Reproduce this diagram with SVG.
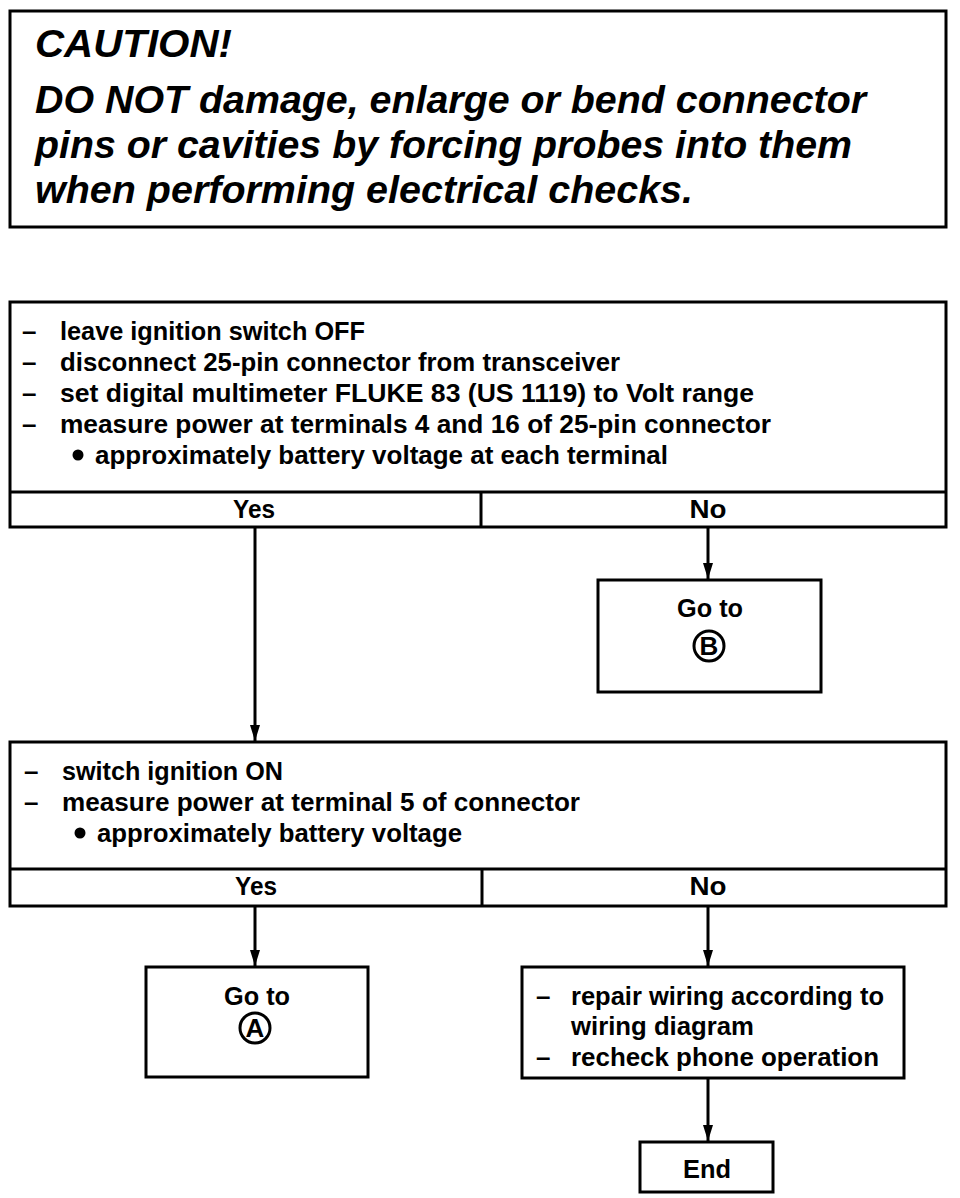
<svg xmlns="http://www.w3.org/2000/svg" width="960" height="1198" viewBox="0 0 960 1198">
<style>
.box{fill:#fff;stroke:#000;stroke-width:3}
.ln{stroke:#000;stroke-width:3;fill:none}
.t{font-family:"Liberation Sans",Arial,sans-serif;font-size:26px;font-weight:bold;fill:#000}
.c{font-family:"Liberation Sans",Arial,sans-serif;font-size:38px;font-weight:bold;font-style:italic;fill:#000}
.m{text-anchor:middle}
.circ{fill:none;stroke:#000;stroke-width:3}
</style>
<defs>
<marker id="ah" markerWidth="16" markerHeight="10" refX="16" refY="5" orient="auto" markerUnits="userSpaceOnUse" viewBox="0 0 16 10">
<path d="M0,0 L16,5 L0,10 Z" fill="#000"/>
</marker>
</defs>
<rect width="960" height="1198" fill="#fff"/>
<g id="caution">
<rect class="box" x="10" y="11" width="936" height="216"/>
<text class="c" x="35" y="57" font-size="31" textLength="197" lengthAdjust="spacingAndGlyphs">CAUTION!</text>
<text class="c" x="35" y="113" textLength="831" lengthAdjust="spacingAndGlyphs">DO NOT damage, enlarge or bend connector</text>
<text class="c" x="35" y="158" textLength="817" lengthAdjust="spacingAndGlyphs">pins or cavities by forcing probes into them</text>
<text class="c" x="35" y="203" textLength="658" lengthAdjust="spacingAndGlyphs">when performing electrical checks.</text>
</g>
<g id="step1">
<rect class="box" x="10" y="302" width="936" height="225"/>
<line class="ln" x1="10" y1="492" x2="946" y2="492"/>
<line class="ln" x1="481" y1="492" x2="481" y2="527"/>
<text class="t" x="22" y="340">–</text>
<text class="t" x="60" y="340" textLength="305" lengthAdjust="spacingAndGlyphs">leave ignition switch OFF</text>
<text class="t" x="22" y="371">–</text>
<text class="t" x="60" y="371" textLength="560" lengthAdjust="spacingAndGlyphs">disconnect 25-pin connector from transceiver</text>
<text class="t" x="22" y="402">–</text>
<text class="t" x="60" y="402" textLength="694" lengthAdjust="spacingAndGlyphs">set digital multimeter FLUKE 83 (US 1119) to Volt range</text>
<text class="t" x="22" y="433">–</text>
<text class="t" x="60" y="433" textLength="711" lengthAdjust="spacingAndGlyphs">measure power at terminals 4 and 16 of 25-pin connector</text>
<circle cx="78" cy="455" r="5.5" fill="#000"/>
<text class="t" x="95" y="464" textLength="573" lengthAdjust="spacingAndGlyphs">approximately battery voltage at each terminal</text>
<text class="t m" x="254" y="518" textLength="42" lengthAdjust="spacingAndGlyphs">Yes</text>
<text class="t m" x="708" y="518" textLength="37" lengthAdjust="spacingAndGlyphs">No</text>
</g>
<g id="gotoB">
<rect class="box" x="598" y="580" width="223" height="112"/>
<text class="t m" x="710" y="617" textLength="66" lengthAdjust="spacingAndGlyphs">Go to</text>
<circle class="circ" cx="709" cy="646" r="15"/>
<text class="t m" x="709" y="655" font-size="24">B</text>
</g>
<g id="step2">
<rect class="box" x="10" y="742" width="936" height="164"/>
<line class="ln" x1="10" y1="869" x2="946" y2="869"/>
<line class="ln" x1="482" y1="869" x2="482" y2="906"/>
<text class="t" x="24" y="780">–</text>
<text class="t" x="62" y="780" textLength="221" lengthAdjust="spacingAndGlyphs">switch ignition ON</text>
<text class="t" x="24" y="811">–</text>
<text class="t" x="62" y="811" textLength="518" lengthAdjust="spacingAndGlyphs">measure power at terminal 5 of connector</text>
<circle cx="80" cy="833" r="5.5" fill="#000"/>
<text class="t" x="97" y="842" textLength="365" lengthAdjust="spacingAndGlyphs">approximately battery voltage</text>
<text class="t m" x="256" y="895" textLength="42" lengthAdjust="spacingAndGlyphs">Yes</text>
<text class="t m" x="708" y="895" textLength="37" lengthAdjust="spacingAndGlyphs">No</text>
</g>
<g id="gotoA">
<rect class="box" x="146" y="967" width="222" height="110"/>
<text class="t m" x="257" y="1005" textLength="66" lengthAdjust="spacingAndGlyphs">Go to</text>
<circle class="circ" cx="255" cy="1028" r="15"/>
<text class="t m" x="255" y="1037" font-size="24">A</text>
</g>
<g id="repair">
<rect class="box" x="522" y="967" width="382" height="111"/>
<text class="t" x="536" y="1005">–</text>
<text class="t" x="571" y="1005" textLength="313" lengthAdjust="spacingAndGlyphs">repair wiring according to</text>
<text class="t" x="571" y="1035" textLength="183" lengthAdjust="spacingAndGlyphs">wiring diagram</text>
<text class="t" x="536" y="1066">–</text>
<text class="t" x="571" y="1066" textLength="308" lengthAdjust="spacingAndGlyphs">recheck phone operation</text>
</g>
<g id="end">
<rect class="box" x="640" y="1142" width="133" height="50"/>
<text class="t m" x="707" y="1178" textLength="48" lengthAdjust="spacingAndGlyphs">End</text>
</g>
<g id="connectors">
<line class="ln" x1="255" y1="527" x2="255" y2="741" marker-end="url(#ah)"/>
<line class="ln" x1="708" y1="527" x2="708" y2="579" marker-end="url(#ah)"/>
<line class="ln" x1="255" y1="906" x2="255" y2="966" marker-end="url(#ah)"/>
<line class="ln" x1="708" y1="906" x2="708" y2="966" marker-end="url(#ah)"/>
<line class="ln" x1="708" y1="1078" x2="708" y2="1141" marker-end="url(#ah)"/>
</g>
</svg>
